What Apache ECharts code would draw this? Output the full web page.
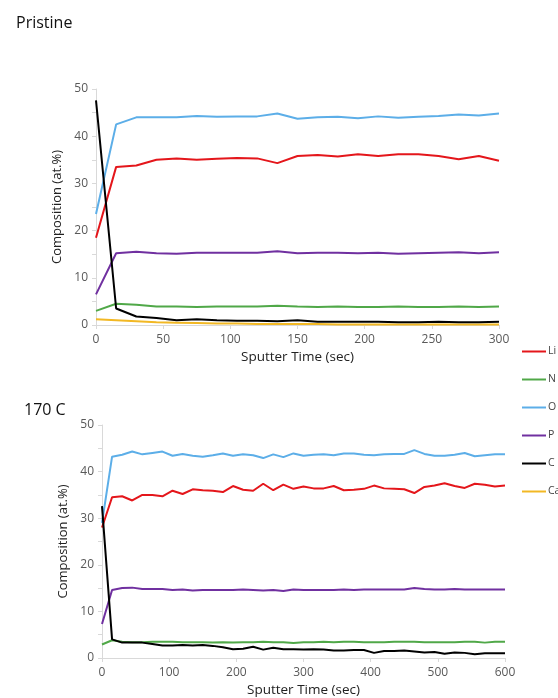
<!DOCTYPE html>
<html lang="en">
<head>
	<meta charset="UTF-8">
	<title>XPS depth profile</title>
	<script src="https://cdn.jsdelivr.net/npm/echarts@6/dist/echarts.min.js"></script>
	<style>
		html, body { margin: 0; padding: 0; background: #fff; }
	</style>
</head>
<body>
	<div id="chart" style="width: 558px; height: 698px;"></div>
	<script type="text/javascript">
		// sputter times, 15 s steps
		const timeTop = [0,15,30,45,60,75,90,105,120,135,150,165,180,195,210,225,240,255,270,285,300];
		const timeBottom = [0,15,30,45,60,75,90,105,120,135,150,165,180,195,210,225,240,255,270,285,300,
			315,330,345,360,375,390,405,420,435,450,465,480,495,510,525,540,555,570,585,600];

		// Pristine
		const liTop = [18.5,33.5,33.8,35,35.3,35,35.2,35.4,35.3,34.3,35.8,36,35.7,36.2,35.8,36.2,36.2,35.8,35.1,35.8,34.8];
		const nTop  = [3.0,4.5,4.3,3.9,3.9,3.8,3.9,3.9,3.9,4.1,3.9,3.8,3.9,3.8,3.8,3.9,3.8,3.8,3.9,3.8,3.9];
		const oTop  = [23.5,42.5,44,44,44,44.3,44.1,44.2,44.2,44.8,43.7,44,44.1,43.8,44.2,43.9,44.1,44.3,44.6,44.4,44.8];
		const pTop  = [6.5,15.2,15.5,15.2,15.1,15.3,15.3,15.3,15.3,15.6,15.2,15.3,15.3,15.2,15.3,15.1,15.2,15.3,15.4,15.2,15.4];
		const cTop  = [47.6,3.5,1.8,1.5,1.0,1.2,1.0,0.9,0.9,0.8,1.0,0.7,0.7,0.7,0.7,0.6,0.6,0.7,0.6,0.6,0.7];
		const caTop = [1.2,1.0,0.8,0.6,0.5,0.4,0.3,0.3,0.2,0.2,0.2,0.2,0.1,0.1,0.1,0.1,0.1,0.1,0.1,0.1,0.1];

		// 170 C
		const liBottom = [28,34.5,34.7,33.8,35,35,34.7,35.9,35.2,36.2,36,35.9,35.6,36.9,36.1,35.9,37.4,36,37.2,36.3,36.8,
			36.4,36.4,36.9,36,36.1,36.3,37,36.4,36.3,36.2,35.4,36.7,37,37.5,36.9,36.5,37.4,37.2,36.8,37];
		const nBottom  = [2.9,3.8,3.5,3.4,3.4,3.5,3.5,3.5,3.4,3.4,3.4,3.3,3.4,3.3,3.4,3.4,3.5,3.4,3.4,3.2,3.4,
			3.4,3.5,3.4,3.5,3.5,3.4,3.4,3.4,3.5,3.5,3.5,3.4,3.4,3.4,3.4,3.5,3.5,3.3,3.5,3.5];
		const oBottom  = [29,43.2,43.6,44.3,43.7,44,44.3,43.4,43.8,43.4,43.2,43.5,43.9,43.4,43.7,43.5,42.9,43.7,43.1,43.9,43.4,
			43.6,43.7,43.5,43.9,43.9,43.6,43.5,43.7,43.8,43.8,44.6,43.8,43.4,43.4,43.6,44,43.3,43.5,43.7,43.7];
		const pBottom  = [7.3,14.6,15,15.1,14.8,14.8,14.8,14.6,14.7,14.5,14.6,14.6,14.6,14.6,14.7,14.6,14.5,14.6,14.4,14.7,14.6,
			14.6,14.6,14.6,14.7,14.6,14.7,14.7,14.7,14.7,14.7,15.0,14.8,14.7,14.7,14.8,14.7,14.7,14.7,14.7,14.7];
		const cBottom  = [32.6,4.0,3.3,3.3,3.3,3.0,2.7,2.7,2.8,2.7,2.8,2.6,2.3,1.9,2.0,2.4,1.8,2.2,1.9,1.9,1.8,
			1.9,1.8,1.6,1.6,1.7,1.7,1.1,1.5,1.5,1.6,1.4,1.2,1.3,0.9,1.2,1.1,0.8,1.0,1.0,1.0];

		const colors = { Li: '#e4161b', N: '#50a848', O: '#5caee8', P: '#7030a0', C: '#000000', Ca: '#f2b824' };

		const pair = (xs, ys) => xs.map((x, i) => [x, ys[i]]);

		const chart = echarts.init(document.getElementById('chart'));

		const yAxisBase = {
			type: 'value', min: 0, max: 50, interval: 10,
			name: 'Composition (at.%)', nameLocation: 'middle', nameGap: 19, nameRotate: 90,
			nameTextStyle: { color: '#222', fontSize: 13, fontFamily: 'Open Sans' },
			axisLine: { show: true, lineStyle: { color: '#d9d9d9' } },
			axisTick: { show: true, length: 4, lineStyle: { color: '#d9d9d9' } },
			minorTick: { show: true, splitNumber: 2, length: 4, lineStyle: { color: '#d9d9d9' } },
			splitLine: { show: false },
			axisLabel: { color: '#595959', fontSize: 12, fontFamily: 'Open Sans', margin: 8 }
		};
		const xAxisBase = {
			type: 'value', min: 0,
			name: 'Sputter Time (sec)', nameLocation: 'middle', nameGap: 25,
			nameTextStyle: { color: '#222', fontSize: 13.5, fontFamily: 'Open Sans' },
			axisLine: { show: true, lineStyle: { color: '#d9d9d9' } },
			axisTick: { show: true, length: 4, lineStyle: { color: '#d9d9d9' } },
			splitLine: { show: false },
			axisLabel: { color: '#595959', fontSize: 12, fontFamily: 'Open Sans', margin: 9 }
		};

		const line = (name, data, idx) => ({
			name: name, type: 'line', xAxisIndex: idx, yAxisIndex: idx,
			data: data, symbol: 'none', color: colors[name],
			lineStyle: { width: 2, color: colors[name] }, animation: false, z: name === 'C' ? 3 : 2
		});

		chart.setOption({
			animation: false,
			title: [
				{ text: 'Pristine', left: 11, top: 10, textStyle: { fontSize: 16, fontWeight: 'normal', color: '#111', fontFamily: 'Open Sans' } },
				{ text: '170 C', left: 19, top: 397, textStyle: { fontSize: 16, fontWeight: 'normal', color: '#111', fontFamily: 'Open Sans' } }
			],
			legend: {
				orient: 'vertical', left: 517, top: 341, itemWidth: 24, itemHeight: 2, itemGap: 17,
				icon: 'rect',
				textStyle: { color: '#444', fontSize: 10.5, fontFamily: 'Open Sans', padding: [0, 0, 0, -3] },
				data: ['Li', 'N', 'O', 'P', 'C', 'Ca']
			},
			grid: [
				{ left: 96, top: 89, width: 403, height: 236 },
				{ left: 102, top: 425, width: 403, height: 239 }
			],
			xAxis: [
				Object.assign({}, xAxisBase, { gridIndex: 0, max: 300, interval: 50 }),
				Object.assign({}, xAxisBase, { gridIndex: 1, max: 600, interval: 100 })
			],
			yAxis: [
				Object.assign({}, yAxisBase, { gridIndex: 0 }),
				Object.assign({}, yAxisBase, { gridIndex: 1 })
			],
			series: [
				line('Li', pair(timeTop, liTop), 0),
				line('N', pair(timeTop, nTop), 0),
				line('O', pair(timeTop, oTop), 0),
				line('P', pair(timeTop, pTop), 0),
				line('C', pair(timeTop, cTop), 0),
				line('Ca', pair(timeTop, caTop), 0),
				line('Li', pair(timeBottom, liBottom), 1),
				line('N', pair(timeBottom, nBottom), 1),
				line('O', pair(timeBottom, oBottom), 1),
				line('P', pair(timeBottom, pBottom), 1),
				line('C', pair(timeBottom, cBottom), 1)
			]
		});
	</script>
</body>
</html>
